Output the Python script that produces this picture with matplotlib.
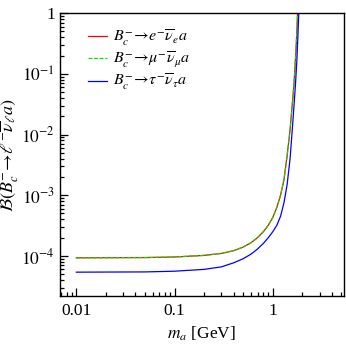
import numpy as np
import matplotlib
matplotlib.use("Agg")
import matplotlib.pyplot as plt
from matplotlib.ticker import FixedLocator, FuncFormatter, LogLocator, NullFormatter

plt.rcParams["font.family"] = ["Liberation Serif", "DejaVu Serif"]
plt.rcParams["mathtext.fontset"] = "stix"

# values
m_a = [0.01, 0.05, 0.1, 0.2, 0.3, 0.4, 0.5, 0.6, 0.7, 0.8, 0.9, 1.0, 1.1, 1.2,
       1.3, 1.4, 1.5, 1.55, 1.6, 1.65, 1.7, 1.75, 1.78, 1.8]
br_e = [9.3e-5, 9.4e-5, 9.6e-5, 1.02e-4, 1.1e-4, 1.22e-4, 1.4e-4, 1.65e-4, 2.0e-4,
        2.5e-4, 3.2e-4, 4.3e-4, 6.3e-4, 1.0e-3, 1.8e-3, 4.5e-3, 1.2e-2, 2.2e-2,
        4.0e-2, 7.5e-2, 0.17, 0.42, 0.85, 1.5]
br_mu = br_e

m_a_tau = [0.01, 0.05, 0.1, 0.2, 0.3, 0.4, 0.5, 0.6, 0.7, 0.8, 0.9, 1.0, 1.1, 1.2,
           1.3, 1.4, 1.5, 1.6, 1.65, 1.7, 1.76, 1.8, 1.84, 1.86]
br_tau = [5.4e-5, 5.45e-5, 5.6e-5, 6.0e-5, 6.6e-5, 7.7e-5, 9.0e-5, 1.07e-4, 1.3e-4,
          1.6e-4, 2.0e-4, 2.5e-4, 3.2e-4, 4.5e-4, 7.5e-4, 1.5e-3, 4.0e-3, 1.6e-2,
          3.2e-2, 6.5e-2, 0.17, 0.4, 1.0, 1.5]

x_ticks = [0.01, 0.1, 1]
x_labels = ["0.01", "0.1", "1"]

fig = plt.figure(figsize=(3.46, 3.46), dpi=100)
ax = fig.add_axes([0.173, 0.145, 0.821, 0.817])

ax.plot(m_a, br_e, color="#ff0000", lw=0.9, label=r"$B_c^{-}\!\to\! e^{-}\overline{\nu}_e a$")
ax.plot(m_a, br_mu, color="#00e000", lw=0.9, ls=(0, (3, 1.5)),
        label=r"$B_c^{-}\!\to\! \mu^{-}\overline{\nu}_\mu a$")
ax.plot(m_a_tau, br_tau, color="#0000ff", lw=0.9,
        label=r"$B_c^{-}\!\to\! \tau^{-}\overline{\nu}_\tau a$")

ax.set_xscale("log")
ax.set_yscale("log")
ax.set_xlim(0.0068, 5.3)
ax.set_ylim(2.2e-5, 1)

ax.xaxis.set_major_locator(FixedLocator(x_ticks))
ax.xaxis.set_major_formatter(FuncFormatter(lambda v, p: x_labels[x_ticks.index(v)] if v in x_ticks else ""))
ax.xaxis.set_minor_locator(LogLocator(base=10, subs=np.arange(2, 10)))
ax.xaxis.set_minor_formatter(NullFormatter())

def yfmt(v, p):
    k = int(round(np.log10(v)))
    return "1" if k == 0 else r"$10^{%d}$" % k

ax.yaxis.set_major_locator(FixedLocator([1e-4, 1e-3, 1e-2, 1e-1, 1]))
ax.yaxis.set_major_formatter(FuncFormatter(yfmt))
ax.yaxis.set_minor_locator(LogLocator(base=10, subs=np.arange(2, 10)))
ax.yaxis.set_minor_formatter(NullFormatter())

ax.tick_params(which="both", direction="in", top=False, right=False, labelsize=12.5, width=0.9)
ax.tick_params(which="major", length=6)
ax.tick_params(which="minor", length=3)
ax.tick_params(axis="x", pad=5)
for s in ax.spines.values():
    s.set_linewidth(1.0)

ax.set_xlabel(r"$m_a$ [GeV]", fontsize=12.5, labelpad=4)
ax.set_ylabel(r"$\mathcal{B}(B_c^{-}\!\to\! \ell^{-}\overline{\nu}_\ell a)$", fontsize=13, labelpad=0)

ax.legend(loc="upper left", bbox_to_anchor=(0.075, 0.97), frameon=False, fontsize=11.5,
          handlelength=1.2, handletextpad=0.4, labelspacing=0.12, borderaxespad=0)

fig.savefig("out.png", dpi=100)
